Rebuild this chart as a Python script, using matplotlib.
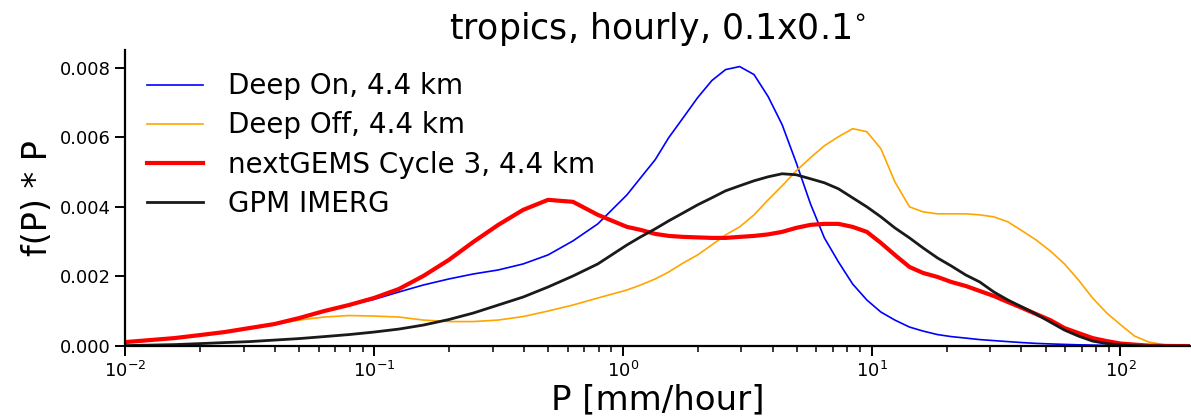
import matplotlib.pyplot as plt
import numpy as np

# precipitation bins [mm/hour]
p_left = [0.01, 0.0126, 0.0158, 0.02, 0.0251, 0.0316, 0.0398, 0.0501, 0.0631, 0.0794,
          0.1, 0.126, 0.158, 0.2, 0.251, 0.316, 0.398, 0.501, 0.631, 0.794]
p_right = [1.04, 1.18, 1.35, 1.53, 1.75, 2.0, 2.28, 2.59, 2.95, 3.37, 3.84, 4.37, 4.98,
           5.68, 6.46, 7.36, 8.39, 9.57, 10.9, 12.4, 14.2, 16.1, 18.4, 20.9, 23.9, 27.2,
           31.0, 35.3, 40.3, 45.8, 52.2, 59.6, 67.8, 77.3, 88.1, 100.5, 114, 130, 149,
           169, 193]
P = p_left + p_right

# f(P)*P, units of 1e-4
deep_on = [1.15, 1.73, 2.30, 3.17, 4.03, 5.18, 6.33, 8.06, 10.07, 11.80,
           13.40, 15.54, 17.55, 19.28, 20.72, 21.87, 23.60, 26.19, 30.22, 35.11,
           43.45, 48.35, 53.53, 59.86, 65.61, 71.37, 76.26, 79.42, 80.29, 77.99,
           71.65, 63.60, 52.66, 40.86, 31.08, 24.17, 17.84, 13.24, 9.78, 7.48,
           5.47, 4.32, 3.31, 2.73, 2.30, 1.87, 1.58, 1.29, 1.01, 0.78,
           0.63, 0.49, 0.37, 0.29, 0.20, 0.14, 0.10, 0.06, 0.04, 0.02, 0.01]
deep_off = [1.15, 1.73, 2.30, 3.17, 4.03, 5.18, 6.19, 7.48, 8.35, 8.78,
            8.63, 8.35, 7.48, 7.05, 7.05, 7.48, 8.49, 10.07, 11.80, 13.81,
            16.12, 17.55, 19.28, 21.29, 23.88, 26.19, 29.06, 31.94, 34.24, 37.70,
            42.01, 46.04, 50.36, 54.10, 57.55, 60.14, 62.45, 61.58, 56.69, 47.19,
            40.00, 38.56, 37.99, 37.99, 37.99, 37.70, 37.12, 35.68, 33.09, 30.50,
            27.34, 23.60, 18.99, 13.81, 9.50, 6.04, 2.88, 1.15, 0.43, 0.14, 0.05]
nextgems = [1.15, 1.73, 2.30, 3.17, 4.03, 5.18, 6.33, 8.06, 10.07, 11.80,
            13.81, 16.40, 20.14, 24.75, 29.93, 34.82, 39.14, 42.01, 41.44, 37.70,
            34.24, 33.38, 32.23, 31.65, 31.37, 31.22, 31.08, 31.08, 31.37, 31.65,
            32.09, 32.81, 33.96, 34.82, 35.11, 35.11, 34.24, 32.81, 29.64, 26.19,
            22.73, 21.01, 19.86, 18.42, 17.27, 15.83, 14.39, 12.66, 10.94, 9.21,
            7.48, 5.18, 3.74, 2.30, 1.44, 0.72, 0.43, 0.14, 0.05, 0.02, 0.01]
imerg = [0.14, 0.29, 0.43, 0.72, 1.01, 1.29, 1.73, 2.16, 2.73, 3.31,
         4.03, 4.89, 6.04, 7.63, 9.50, 11.80, 14.10, 16.98, 20.14, 23.60,
         29.06, 31.37, 33.67, 35.97, 38.27, 40.58, 42.59, 44.60, 46.04, 47.48,
         48.63, 49.50, 49.21, 48.06, 46.91, 45.18, 42.59, 40.00, 37.12, 33.96,
         31.08, 28.20, 25.32, 23.02, 20.43, 18.42, 15.54, 13.24, 11.22, 9.21,
         6.91, 4.60, 2.88, 1.44, 0.72, 0.35, 0.14, 0.05, 0.02, 0.01, 0.0]

series = [[deep_on, 'Deep On, 4.4 km', 'blue', 1.2],
          [deep_off, 'Deep Off, 4.4 km', 'orange', 1.2],
          [nextgems, 'nextGEMS Cycle 3, 4.4 km', 'red', 3.0],
          [imerg, 'GPM IMERG', '#1a1a1a', 2.0]]

fig = plt.figure(figsize=(11.91, 4.18), dpi=100)
ax = fig.add_axes([0.105, 0.172, 0.894, 0.708])

for s in series:
    ax.plot(P, np.array(s[0]) * 1e-4, label=s[1], color=s[2], lw=s[3])

ax.set_xscale('log')
ax.set_xlim(1e-2, 190)
ax.set_ylim(0, 0.0085)
ax.set_yticks([0, 0.002, 0.004, 0.006, 0.008])
ax.set_yticklabels(['0.000', '0.002', '0.004', '0.006', '0.008'])
ax.spines['top'].set_visible(False)
ax.spines['right'].set_visible(False)
for sp in ['left', 'bottom']:
    ax.spines[sp].set_linewidth(1.6)
ax.tick_params(which='major', length=7, width=1.4, labelsize=13)
ax.tick_params(which='minor', length=4, width=1.1)

ax.set_xlabel('P [mm/hour]', fontsize=24.5, labelpad=2)
ax.set_ylabel('f(P) * P', fontsize=24)
ax.set_title(r'tropics, hourly, 0.1x0.1$^{\circ}$', fontsize=25, pad=8)
ax.legend(loc='upper left', fontsize=20, frameon=False, labelspacing=0.4,
          handletextpad=0.9, borderaxespad=0.4)

fig.savefig('out.png', dpi=100)
